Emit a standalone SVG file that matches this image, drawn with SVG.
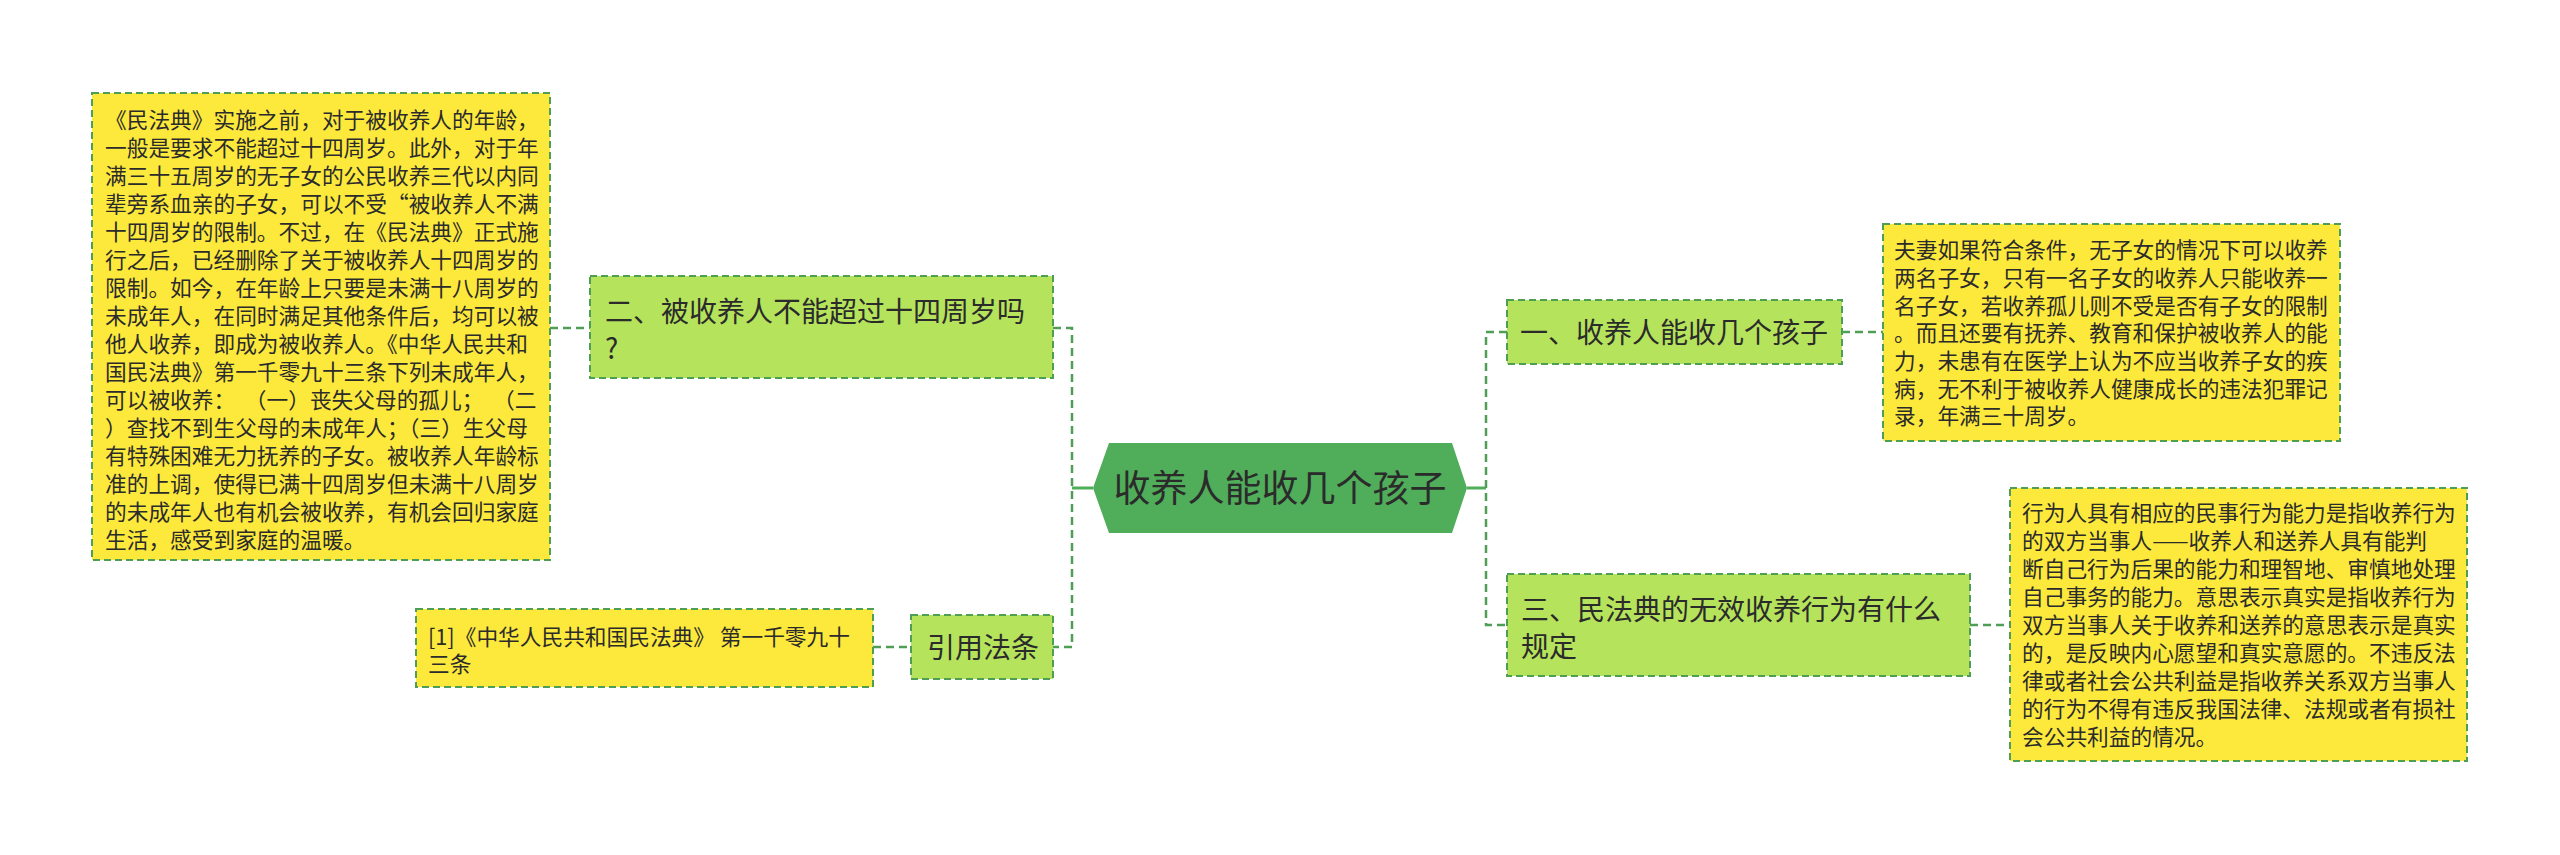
<svg xmlns="http://www.w3.org/2000/svg" width="2560" height="855" viewBox="0 0 2560 855">
<style>
text{font-family:"Noto Sans CJK SC","Noto Sans",sans-serif;fill:#2b2b2b}
.y rect{fill:#fde93b;stroke:#4f9e55;stroke-width:2;stroke-dasharray:7 4}
.g rect{fill:#b6e35c;stroke:#4f9e55;stroke-width:2;stroke-dasharray:7 4}
.y text{font-size:21.7px}
.g text{font-size:28px}
.c{fill:none;stroke:#4f9e55;stroke-width:2.5;stroke-dasharray:8 5}
.s{fill:none;stroke:#4fae5a;stroke-width:3}
</style>
<rect width="2560" height="855" fill="#ffffff"/>
<g id="connectors">
<path class="c" d="M550,328H590"/>
<path class="c" d="M1053,328H1072V647H1053"/>
<path class="c" d="M873,647H911"/>
<path class="s" d="M1072,488H1093"/>
<path class="s" d="M1467,488H1486"/>
<path class="c" d="M1507,332H1486V625H1507"/>
<path class="c" d="M1842,332H1883"/>
<path class="c" d="M1970,625H2010"/>
</g>
<g id="root">
<polygon points="1093,488 1109,443 1452,443 1467,488 1452,533 1109,533" fill="#50ad5a"/>
<text x="1280" y="502" text-anchor="middle" style="font-size:37px">收养人能收几个孩子</text>
</g>
<g id="n1" class="g">
<rect x="1507" y="300" width="335" height="64"/>
<text x="1520" y="342.5">一、收养人能收几个孩子</text>
</g>
<g id="n3" class="g">
<rect x="1507" y="574" width="463" height="102"/>
<text x="1521" y="619.5">三、民法典的无效收养行为有什么</text>
<text x="1521" y="656.5">规定</text>
</g>
<g id="n2" class="g">
<rect x="590" y="276" width="463" height="102"/>
<text x="605" y="321.5">二、被收养人不能超过十四周岁吗</text>
<text x="605" y="358.5">?</text>
</g>
<g id="n4" class="g">
<rect x="911" y="615" width="142" height="64"/>
<text x="927" y="657.5">引用法条</text>
</g>
<g id="d1" class="y">
<rect x="1883" y="224" width="457" height="217"/>
<text x="1894" y="258.2">夫妻如果符合条件，无子女的情况下可以收养</text>
<text x="1894" y="285.9">两名子女，只有一名子女的收养人只能收养一</text>
<text x="1894" y="313.6">名子女，若收养孤儿则不受是否有子女的限制</text>
<text x="1894" y="341.3">。而且还要有抚养、教育和保护被收养人的能</text>
<text x="1894" y="369">力，未患有在医学上认为不应当收养子女的疾</text>
<text x="1894" y="396.7">病，无不利于被收养人健康成长的违法犯罪记</text>
<text x="1894" y="424.4">录，年满三十周岁。</text>
</g>
<g id="d3" class="y">
<rect x="2010" y="488" width="457" height="273"/>
<text x="2022" y="521.2">行为人具有相应的民事行为能力是指收养行为</text>
<text x="2022" y="549.2">的双方当事人——收养人和送养人具有能判</text>
<text x="2022" y="577.2">断自己行为后果的能力和理智地、审慎地处理</text>
<text x="2022" y="605.2">自己事务的能力。意思表示真实是指收养行为</text>
<text x="2022" y="633.2">双方当事人关于收养和送养的意思表示是真实</text>
<text x="2022" y="661.2">的，是反映内心愿望和真实意愿的。不违反法</text>
<text x="2022" y="689.2">律或者社会公共利益是指收养关系双方当事人</text>
<text x="2022" y="717.2">的行为不得有违反我国法律、法规或者有损社</text>
<text x="2022" y="745.2">会公共利益的情况。</text>
</g>
<g id="d2" class="y">
<rect x="92" y="93" width="458" height="467"/>
<text x="105" y="128.2">《民法典》实施之前，对于被收养人的年龄，</text>
<text x="105" y="156.2">一般是要求不能超过十四周岁。此外，对于年</text>
<text x="105" y="184.2">满三十五周岁的无子女的公民收养三代以内同</text>
<text x="105" y="212.2">辈旁系血亲的子女，可以不受“被收养人不满</text>
<text x="105" y="240.2">十四周岁的限制。不过，在《民法典》正式施</text>
<text x="105" y="268.2">行之后，已经删除了关于被收养人十四周岁的</text>
<text x="105" y="296.2">限制。如今，在年龄上只要是未满十八周岁的</text>
<text x="105" y="324.2">未成年人，在同时满足其他条件后，均可以被</text>
<text x="105" y="352.2">他人收养，即成为被收养人。《中华人民共和</text>
<text x="105" y="380.2">国民法典》第一千零九十三条下列未成年人，</text>
<text x="105" y="408.2" xml:space="preserve">可以被收养：  （一）丧失父母的孤儿；  （二</text>
<text x="105" y="436.2">）查找不到生父母的未成年人；（三）生父母</text>
<text x="105" y="464.2">有特殊困难无力抚养的子女。被收养人年龄标</text>
<text x="105" y="492.2">准的上调，使得已满十四周岁但未满十八周岁</text>
<text x="105" y="520.2">的未成年人也有机会被收养，有机会回归家庭</text>
<text x="105" y="548.2">生活，感受到家庭的温暖。</text>
</g>
<g id="d4" class="y">
<rect x="416" y="609" width="457" height="78"/>
<text x="428" y="645.2" xml:space="preserve">[1]《中华人民共和国民法典》 第一千零九十</text>
<text x="428" y="672.2">三条</text>
</g>
</svg>
